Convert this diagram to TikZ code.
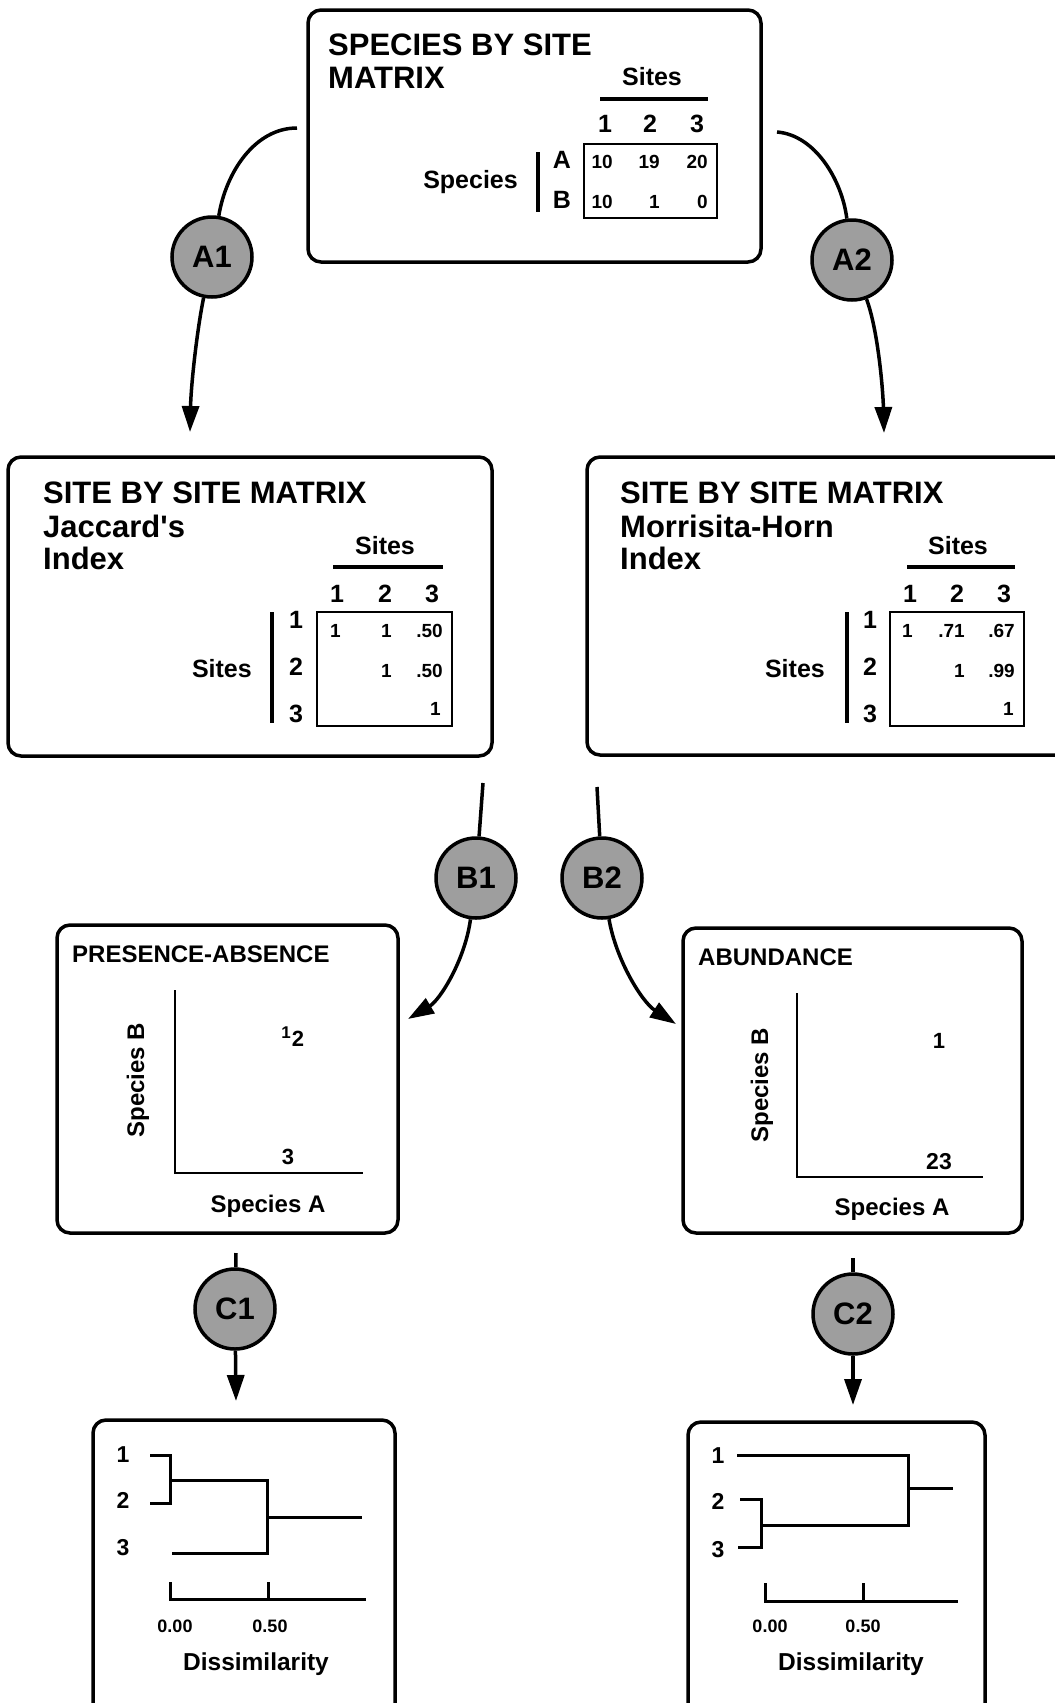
\documentclass[tikz,border=0pt]{standalone}
\usepackage{fontspec}
\setmainfont{Liberation Sans}[Ligatures=TeXOff]
\usetikzlibrary{arrows.meta}
\begin{document}
\begin{tikzpicture}[x=1pt,y=-1pt,
  panel/.style={draw, line width=3.5pt, rounded corners=13pt, inner sep=0pt},
  ttl/.style={font=\fontsize{31}{31}\selectfont\bfseries, anchor=base west, inner sep=0pt},
  lab/.style={font=\fontsize{25}{25}\selectfont\bfseries, inner sep=0pt},
  sml/.style={font=\fontsize{24}{24}\selectfont\bfseries, inner sep=0pt},
  ent/.style={font=\fontsize{19}{19}\selectfont\bfseries, inner sep=0pt, anchor=base east},
  pt/.style={font=\fontsize{22}{22}\selectfont\bfseries, inner sep=0pt, anchor=base},
  tick/.style={font=\fontsize{18}{18}\selectfont\bfseries, inner sep=0pt, anchor=base},
  dlab/.style={font=\fontsize{23}{23}\selectfont\bfseries, inner sep=0pt, anchor=base},
  xlab/.style={font=\fontsize{24.5}{24.5}\selectfont\bfseries, inner sep=0pt, anchor=base},
  circ/.style={circle, draw, line width=3.5pt, fill=black!38, minimum size=80pt, inner sep=0pt, font=\fontsize{31}{31}\selectfont\bfseries},
  conn/.style={line width=3.5pt},
  arr/.style={line width=3.5pt, -{Triangle[length=26pt,width=17pt]}},
  thinbox/.style={line width=1.5pt},
  bar/.style={line width=4pt},
  axis/.style={line width=2.5pt},
  dend/.style={line width=3pt},
]
\clip (0,0) rectangle (1055,1703);
\fill[white] (0,0) rectangle (1055,1703);

% ---------------- top box ----------------
\node[panel, minimum width=453pt, minimum height=252pt] (top) at (534.5,136) {};
\node[ttl] (t1) at (328,55) {SPECIES BY SITE};
\node[ttl] (t2) at (328,88) {MATRIX};
\node[lab, anchor=base] (ts) at (652,85) {Sites};
\draw[bar] (600,99) -- (708,99);
\node[lab, anchor=base] (th1) at (605,132) {1};
\node[lab, anchor=base] (th2) at (650,132) {2};
\node[lab, anchor=base] (th3) at (697,132) {3};
\draw[thinbox] (584,144) rectangle (717,218);
\node[lab, anchor=base] (tA) at (562,168) {A};
\node[lab, anchor=base] (tB) at (562,208) {B};
\draw[bar] (538,152) -- (538,212);
\node[lab, anchor=base east] (tsp) at (518,188) {Species};
\node[ent] (ta1) at (613,168) {10};
\node[ent] (ta2) at (660,168) {19};
\node[ent] (ta3) at (708,168) {20};
\node[ent] (tb1) at (613,208) {10};
\node[ent] (tb2) at (660,208) {1};
\node[ent] (tb3) at (708,208) {0};

% ---------------- Jaccard box ----------------
\node[panel, minimum width=484pt, minimum height=299pt] (jac) at (250,606.5) {};
\node[ttl] (j1) at (43,503) {SITE BY SITE MATRIX};
\node[ttl] (j2) at (43,537) {Jaccard's};
\node[ttl] (j3) at (43,569) {Index};
\node[lab, anchor=base] (js) at (385,554) {Sites};
\draw[bar] (333,567) -- (443,567);
\node[lab, anchor=base] (jh1) at (337,602) {1};
\node[lab, anchor=base] (jh2) at (385,602) {2};
\node[lab, anchor=base] (jh3) at (432,602) {3};
\draw[thinbox] (317,612) rectangle (452,726);
\node[lab, anchor=base] (jr1) at (296,628) {1};
\node[lab, anchor=base] (jr2) at (296,675) {2};
\node[lab, anchor=base] (jr3) at (296,722) {3};
\draw[bar] (272,612) -- (272,723);
\node[lab, anchor=base east] (jsl) at (252,677) {Sites};
\node[ent] (je11) at (341,637) {1};
\node[ent] (je12) at (392,637) {1};
\node[ent] (je13) at (443,637) {.50};
\node[ent] (je22) at (392,677) {1};
\node[ent] (je23) at (443,677) {.50};
\node[ent] (je33) at (441,715) {1};

% ---------------- Morrisita box ----------------
\node[panel, minimum width=490pt, minimum height=298pt] (mor) at (832,606) {};
\node[ttl] (m1) at (620,503) {SITE BY SITE MATRIX};
\node[ttl] (m2) at (620,537) {Morrisita-Horn};
\node[ttl] (m3) at (620,569) {Index};
\node[lab, anchor=base] (ms) at (958,554) {Sites};
\draw[bar] (907,567) -- (1015,567);
\node[lab, anchor=base] (mh1) at (910,602) {1};
\node[lab, anchor=base] (mh2) at (957,602) {2};
\node[lab, anchor=base] (mh3) at (1004,602) {3};
\draw[thinbox] (890,612) rectangle (1024,726);
\node[lab, anchor=base] (mr1) at (870,628) {1};
\node[lab, anchor=base] (mr2) at (870,675) {2};
\node[lab, anchor=base] (mr3) at (870,722) {3};
\draw[bar] (847,612) -- (847,723);
\node[lab, anchor=base east] (msl) at (825,677) {Sites};
\node[ent] (me11) at (913,637) {1};
\node[ent] (me12) at (965,637) {.71};
\node[ent] (me13) at (1015,637) {.67};
\node[ent] (me22) at (965,677) {1};
\node[ent] (me23) at (1015,677) {.99};
\node[ent] (me33) at (1014,715) {1};

% ---------------- Presence-absence ----------------
\node[panel, minimum width=341pt, minimum height=308pt] (pa) at (227.5,1079) {};
\node[sml, anchor=base west] (pat) at (72,962) {PRESENCE-ABSENCE};
\draw[axis] (175,990) -- (175,1173) -- (363,1173);
\node[sml, rotate=90] (pay) at (138,1080) {Species B};
\node[sml, anchor=base] (pax) at (268,1212) {Species A};
\node[font=\fontsize{17}{17}\selectfont\bfseries, inner sep=0pt, anchor=base] (pp1) at (286,1038) {1};
\node[pt] (pp2) at (298,1046) {2};
\node[pt] (pp3) at (288,1164) {3};

% ---------------- Abundance ----------------
\node[panel, minimum width=339pt, minimum height=305pt] (ab) at (852.5,1080.5) {};
\node[sml, anchor=base west] (abt) at (698,965) {ABUNDANCE};
\draw[axis] (797,993) -- (797,1177) -- (983,1177);
\node[sml, rotate=90] (aby) at (762,1085) {Species B};
\node[sml, anchor=base] (abx) at (892,1215) {Species A};
\node[pt] (ab1) at (939,1048) {1};
\node[font=\fontsize{23}{23}\selectfont\bfseries, inner sep=0pt, anchor=base] (ab23) at (939,1169) {23};

% ---------------- Dendrogram 1 ----------------
\node[panel, minimum width=302pt, minimum height=300pt] (d1) at (244,1570) {};
\node[dlab] (d1l1) at (123,1462) {1};
\node[dlab] (d1l2) at (123,1508) {2};
\node[dlab] (d1l3) at (123,1555) {3};
\draw[dend] (150,1455) -- (170,1455) -- (170,1503) -- (150,1503);
\draw[dend] (170,1480) -- (267,1480) -- (267,1553) -- (172,1553);
\draw[dend] (267,1517) -- (362,1517);
\draw[dend] (170,1582) -- (170,1599) -- (366,1599);
\draw[dend] (268,1582) -- (268,1599);
\node[tick] (d1t0) at (175,1632) {0.00};
\node[tick] (d1t5) at (270,1632) {0.50};
\node[xlab] (d1x) at (256,1670) {Dissimilarity};

% ---------------- Dendrogram 2 ----------------
\node[panel, minimum width=297pt, minimum height=298pt] (d2) at (836.5,1571) {};
\node[dlab] (d2l1) at (718,1463) {1};
\node[dlab] (d2l2) at (718,1509) {2};
\node[dlab] (d2l3) at (718,1557) {3};
\draw[dend] (737,1455) -- (908,1455) -- (908,1525) -- (761,1525);
\draw[dend] (740,1499) -- (761,1499) -- (761,1547) -- (738,1547);
\draw[dend] (908,1488) -- (953,1488);
\draw[dend] (765,1583) -- (765,1601) -- (958,1601);
\draw[dend] (863,1583) -- (863,1601);
\node[tick] (d2t0) at (770,1632) {0.00};
\node[tick] (d2t5) at (863,1632) {0.50};
\node[xlab] (d2x) at (851,1670) {Dissimilarity};

% ---------------- step circles ----------------
\node[circ] (A1) at (212,257) {A1};
\node[circ] (A2) at (852,260) {A2};
\node[circ] (B1) at (476,878) {B1};
\node[circ] (B2) at (602,878) {B2};
\node[circ] (C1) at (235,1309) {C1};
\node[circ] (C2) at (853,1314) {C2};

% ---------------- connectors ----------------
\coordinate (a1s) at (297,128);
\coordinate (a1e) at (190,432);
\coordinate (a2s) at (777,132);
\coordinate (a2e) at (884,433);
\coordinate (b1s) at (483,783);
\coordinate (b1e) at (408,1019);
\coordinate (b2s) at (597,787);
\coordinate (b2e) at (676,1024);
\coordinate (c1s) at (236,1253);
\coordinate (c1e) at (236,1401);
\coordinate (c2s) at (853,1258);
\coordinate (c2e) at (853,1405);

\draw[conn] (a1s) .. controls (255,128) and (226,172) .. (A1);
\draw[arr] (A1) .. controls (197,330) and (191,385) .. (a1e);
\draw[conn] (a2s) .. controls (815,135) and (842,180) .. (A2);
\draw[arr] (A2) .. controls (878,330) and (883,390) .. (a2e);
\draw[conn] (b1s) -- (B1);
\draw[arr] (B1) .. controls (465,960) and (440,1000) .. (b1e);
\draw[conn] (b2s) -- (B2);
\draw[arr] (B2) .. controls (616,960) and (642,1002) .. (b2e);
\draw[conn] (c1s) -- (C1);
\draw[arr] (C1) -- (c1e);
\draw[conn] (c2s) -- (C2);
\draw[arr] (C2) -- (c2e);
\end{tikzpicture}
\end{document}
